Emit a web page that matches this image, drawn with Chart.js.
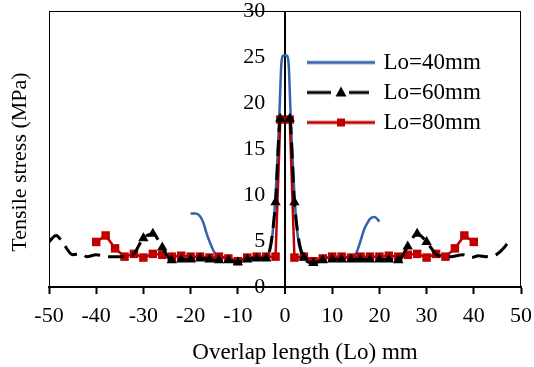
<!DOCTYPE html>
<html>
<head>
<meta charset="utf-8">
<script src="https://cdn.jsdelivr.net/npm/chart.js@4.4.1/dist/chart.umd.min.js"></script>
<style>
    html, body { margin: 0; padding: 0; background: #ffffff; }
</style>
</head>
<body>
<canvas id="stressChart" width="534" height="367"></canvas>
<script>

// Lo = 40 mm (blue, no markers)
const blueX = [-20, -19, -18, -17.3, -16.6, -15.8, -15.2, -14.5, -13, -12,
    -10, -8, -6, -4, -3, -2.5, -2, -1.5, -1.1, -0.8,
    -0.5, 0, 0.5, 0.8, 1.1, 1.5, 2, 2.5, 3, 4,
    6, 8, 10, 12, 14, 14.8, 15.2, 16, 16.8, 17.5,
    18, 19, 20];
const blueY = [8.0, 8.0, 7.7, 7.0, 5.8, 4.7, 4.0, 3.4, 3.2, 3.1,
    2.9, 3.1, 3.2, 3.3, 4.5, 6.5, 10, 15, 20, 24,
    25.1, 25.2, 25.1, 24, 20, 15, 10, 6.5, 4.5, 3.3,
    3.0, 3.1, 3.2, 3.2, 3.2, 3.4, 3.8, 5.0, 6.3, 7.0,
    7.4, 7.6, 7.1];

// Lo = 60 mm (black dashed, triangles)
const blackX = [-50, -48.5, -46.7, -45, -43.3, -42, -40, -37.5, -35, -32.5,
    -30, -28, -26, -24, -22, -20, -18, -16, -14, -12,
    -10, -8, -6, -4, -2, -1, 0, 1, 2, 4,
    6, 8, 10, 12, 14, 16, 18, 20, 22, 24,
    26, 28, 30, 32.5, 35, 37.7, 39.5, 41, 42.5, 44.7,
    46.3, 47.9];
const blackY = [4.9, 5.6, 4.5, 3.5, 3.6, 3.3, 3.5, 3.3, 3.3, 3.4,
    5.3, 5.8, 4.3, 2.9, 3.0, 3.0, 3.1, 3.0, 2.9, 2.9,
    2.7, 3.0, 3.1, 3.1, 9.2, 18.3, 18.5, 18.3, 9.2, 3.2,
    2.6, 2.9, 3.0, 3.0, 3.0, 3.0, 3.0, 3.0, 3.0, 2.9,
    4.4, 5.8, 4.9, 3.4, 3.3, 3.5, 3.2, 3.4, 3.3, 3.5,
    4.2, 5.3];

// Lo = 80 mm (red, squares)
const redX = [-40, -38, -36, -34, -32, -30, -28, -26, -24, -22,
    -20, -18, -16, -14, -12, -10, -8, -6, -4, -2,
    -1, 1,
    2, 4, 6, 8, 10, 12, 14, 16, 18, 20,
    22, 24, 26, 28, 30, 32, 34, 36, 38, 40];
const redY = [4.9, 5.6, 4.2, 3.3, 3.6, 3.2, 3.6, 3.5, 3.3, 3.4,
    3.3, 3.3, 3.2, 3.3, 3.1, 2.8, 3.2, 3.3, 3.3, 3.3,
    18.2, 18.2,
    3.2, 3.3, 2.8, 3.1, 3.3, 3.3, 3.2, 3.3, 3.3, 3.3,
    3.4, 3.3, 3.5, 3.6, 3.2, 3.6, 3.3, 4.2, 5.6, 4.9];

const seriesLabels = ["Lo=40mm", "Lo=60mm", "Lo=80mm"];
const xTicks = { min: -50, max: 50, step: 10 };
const yTicks = { min: 0, max: 30, step: 5 };
const xTitle = "Overlap length (Lo) mm";
const yTitle = "Tensile stress (MPa)";

const BLUE = "#3461ab";
const RED = "#c00000";
const FONT = "'Liberation Serif', 'Times New Roman', serif";

function toPoints(xs, ys) {
    return xs.map((x, i) => ({ x: x, y: ys[i] }));
}

// legend sample: line with the marker in the middle
function legendIcon(color, marker) {

    const c = document.createElement("canvas");
    c.width = 68;
    c.height = 20;
    const g = c.getContext("2d");

    g.strokeStyle = color;
    g.fillStyle = color;
    g.lineWidth = 3;

    g.beginPath();
    if (marker === "triangle") {
        g.moveTo(0, 10); g.lineTo(24, 10);
        g.moveTo(42, 10); g.lineTo(62, 10);
    } else {
        g.moveTo(0, 10); g.lineTo(68, 10);
    }
    g.stroke();

    if (marker === "triangle") {
        g.beginPath();
        g.moveTo(34, 4); g.lineTo(39.5, 14); g.lineTo(28.5, 14);
        g.closePath();
        g.fill();
    } else if (marker === "rect") {
        g.fillRect(30, 6, 8, 8);
    }

    return c;
}

const icons = [legendIcon(BLUE, null), legendIcon("#000", "triangle"), legendIcon(RED, "rect")];

const framePlugin = {
    id: "frame",
    beforeDatasetsDraw(chart) {
        const { ctx, chartArea: a } = chart;
        ctx.save();
        ctx.strokeStyle = "#000";
        ctx.lineWidth = 1;
        ctx.strokeRect(a.left + 0.5, a.top + 0.5, a.right - a.left - 1, a.bottom - a.top);
        ctx.restore();
    }
};

const titlePlugin = {
    id: "axisTitles",
    afterLayout(chart) {
        const a = chart.chartArea;
        chart.legend.left = a.left + 254;
        chart.legend.top = a.top + 33;
    },
    afterDraw(chart) {
        const { ctx, chartArea: a } = chart;
        ctx.save();
        ctx.fillStyle = "#000";
        ctx.textAlign = "center";
        ctx.textBaseline = "middle";
        ctx.font = "23px " + FONT;
        ctx.fillText(xTitle, (a.left + a.right) / 2 + 20, a.bottom + 66);
        ctx.font = "22px " + FONT;
        ctx.translate(20, (a.top + a.bottom) / 2 + 13);
        ctx.rotate(-Math.PI / 2);
        ctx.fillText(yTitle, 0, 0);
        ctx.restore();
    }
};

Chart.defaults.font.family = FONT;
Chart.defaults.font.size = 22;
Chart.defaults.color = "#000";

const ctx = document.getElementById("stressChart").getContext("2d");

const chart = new Chart(ctx, {

    type: "scatter",

    data: {
        datasets: [{
            label: seriesLabels[0],
            data: toPoints(blueX, blueY),
            showLine: true,
            borderColor: BLUE,
            backgroundColor: BLUE,
            borderWidth: 2.5,
            pointRadius: 0,
            cubicInterpolationMode: "monotone",
            order: 2
        }, {
            label: seriesLabels[1],
            data: toPoints(blackX, blackY),
            showLine: true,
            borderColor: "#000",
            backgroundColor: "#000",
            borderWidth: 3,
            borderDash: [16, 8],
            pointStyle: "triangle",
            pointRadius: blackX.map(x => (Math.abs(x) <= 30 && x !== 0) ? 6 : 0),
            pointBorderWidth: 0,
            cubicInterpolationMode: "monotone",
            order: 0
        }, {
            label: seriesLabels[2],
            data: toPoints(redX, redY),
            showLine: true,
            borderColor: RED,
            backgroundColor: RED,
            borderWidth: 2.5,
            pointStyle: "rect",
            pointRadius: 6,
            pointBorderWidth: 0,
            tension: 0,
            order: 1
        }]
    },

    options: {

        responsive: false,
        animation: false,

        layout: {
            padding: { left: 49, right: 13, top: 11, bottom: 0 }
        },

        plugins: {
            tooltip: { enabled: false },
            legend: {
                position: "chartArea",
                align: "start",
                labels: {
                    font: { size: 23 },
                    color: "#000",
                    usePointStyle: true,
                    pointStyleWidth: 62,
                    boxHeight: 20,
                    padding: 7,
                    generateLabels: (c) => c.data.datasets.map((ds, i) => ({
                        text: ds.label,
                        pointStyle: icons[i],
                        fillStyle: ds.borderColor,
                        strokeStyle: ds.borderColor,
                        lineWidth: 0,
                        hidden: false,
                        datasetIndex: i
                    }))
                }
            }
        },

        scales: {

            x: {
                type: "linear",
                min: xTicks.min,
                max: xTicks.max,
                ticks: {
                    stepSize: xTicks.step,
                    padding: 9,
                    maxRotation: 0
                },
                grid: {
                    drawOnChartArea: true,
                    color: (c) => (c.tick && c.tick.value === 0) ? "#000" : "rgba(0,0,0,0)",
                    lineWidth: (c) => (c.tick && c.tick.value === 0) ? 2 : 1,
                    tickColor: "#000",
                    tickWidth: 2,
                    tickLength: 7
                },
                border: { display: true, color: "#000", width: 2 },
                afterFit(scale) {
                    scale.height = 80;
                    scale.paddingLeft = 0;
                    scale.paddingRight = 0;
                }
            },

            y: {
                type: "linear",
                min: yTicks.min,
                max: yTicks.max,
                position: { x: -4.2 },
                ticks: {
                    stepSize: yTicks.step,
                    padding: 0
                },
                grid: { display: false, drawTicks: false },
                border: { display: false },
                afterFit(scale) {
                    scale.width = 0;
                    scale.paddingTop = 0;
                    scale.paddingBottom = 0;
                }
            }

        }

    },

    plugins: [framePlugin, titlePlugin]

});

</script>
</body>
</html>
